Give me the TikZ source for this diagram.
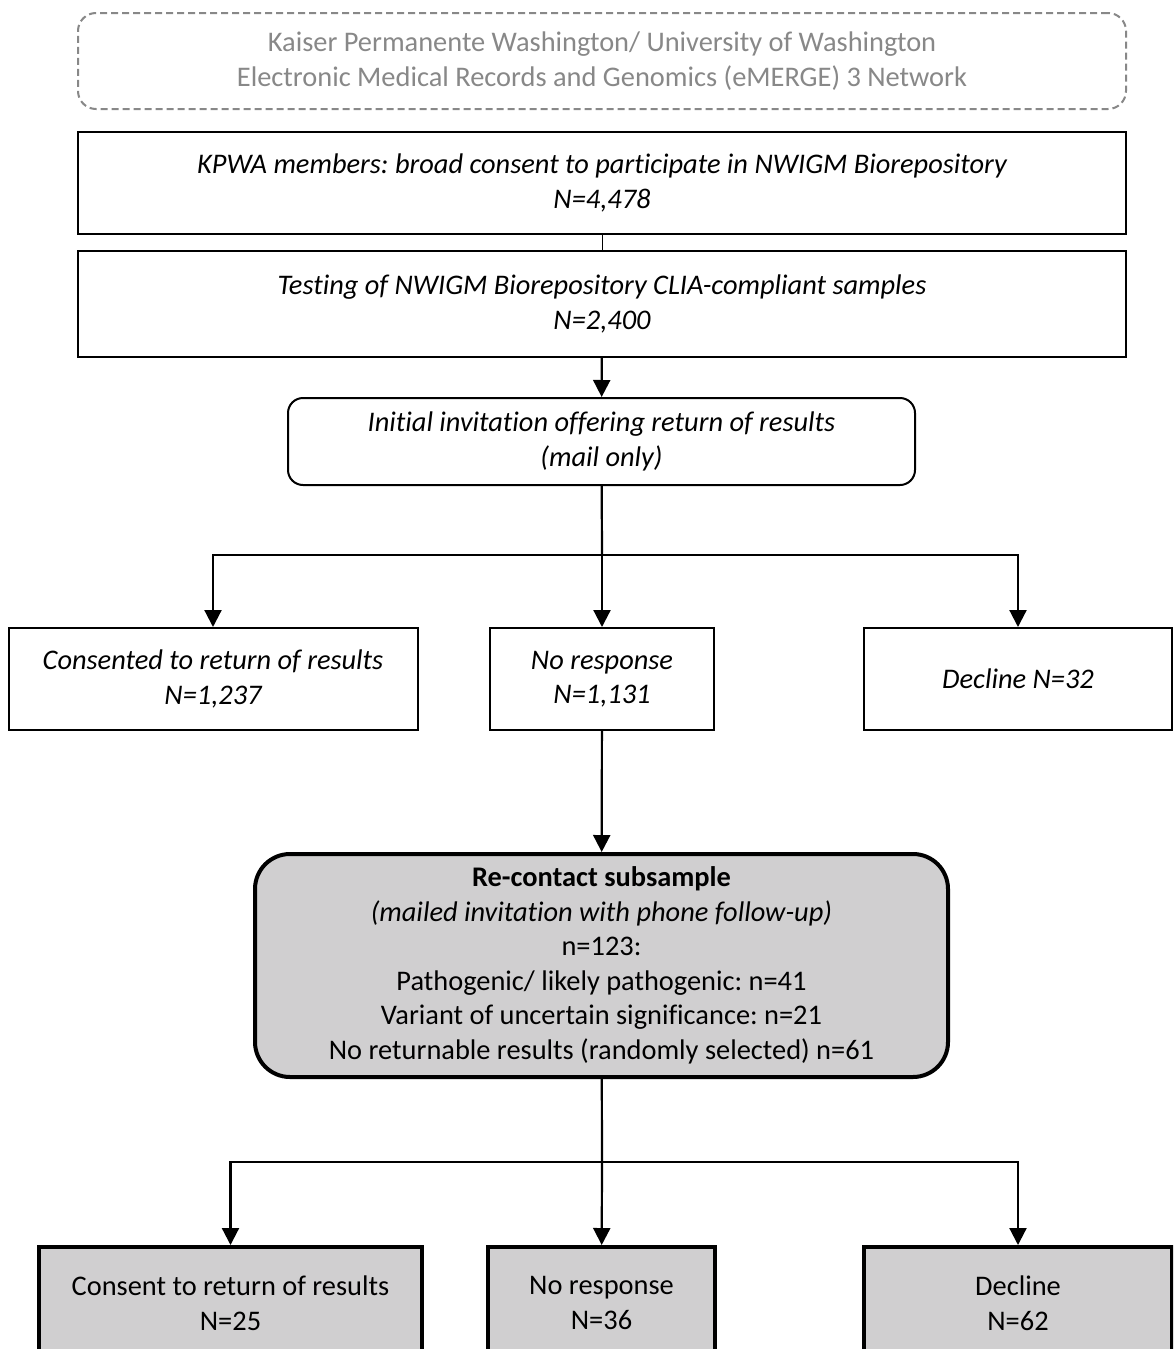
\documentclass[tikz,border=0pt]{standalone}
\usepackage{fontspec}
\setmainfont[Ligatures={NoCommon}]{Carlito}
\usetikzlibrary{arrows.meta}
\definecolor{boxgray}{HTML}{D0CFD0}
\definecolor{txtgray}{HTML}{888888}
\frenchspacing
\tikzset{
  base/.style={draw, align=center, inner sep=0pt, font=\fontsize{28.4}{34.5}\selectfont},
  plainbox/.style={base, line width=2pt, font=\fontsize{28.4}{34.5}\selectfont\itshape},
  roundbox/.style={plainbox, rounded corners=15pt},
  dashbox/.style={base, draw=txtgray, text=txtgray, dashed, dash pattern=on 7pt off 4pt, line width=2pt, rounded corners=18pt},
  graybox/.style={base, fill=boxgray, line width=4pt},
  conn/.style={line width=2.2pt},
  arr/.style={line width=2.2pt, -{Triangle[width=17pt,length=17pt]}}
}
\begin{document}
\begin{tikzpicture}[x=1pt,y=-1pt]
\clip (0,0) rectangle (1173,1349);
\fill[white] (0,0) rectangle (1173,1349);

\node[dashbox, minimum width=1048pt, minimum height=96pt] (top) at (602,61)
  {Kaiser Permanente Washington/ University of Washington\\Electronic Medical Records and Genomics (eMERGE) 3 Network};
\node[plainbox, minimum width=1048pt, minimum height=102pt] (b1) at (602,183)
  {KPWA members: broad consent to participate in NWIGM Biorepository\\N=4,478};
\node[plainbox, minimum width=1048pt, minimum height=106pt] (b2) at (602,304)
  {Testing of NWIGM Biorepository CLIA-compliant samples\\N=2,400};
\node[roundbox, minimum width=627pt, minimum height=87pt] (b3) at (601.5,441.5)
  {Initial invitation offering return of results\\(mail only)};
\node[plainbox, minimum width=409pt, minimum height=102pt] (b4) at (213,679)
  {Consented to return of results\\N=1,237};
\node[plainbox, minimum width=224pt, minimum height=102pt] (b5) at (602,679)
  {No response\\N=1,131};
\node[plainbox, minimum width=308pt, minimum height=102pt] (b6) at (1018,679)
  {Decline N=32};
\node[graybox, rounded corners=35pt, minimum width=693pt, minimum height=223pt] (rc) at (601.5,965.5)
  {\textbf{Re-contact subsample}\\\textit{(mailed invitation with phone follow-up)}\\n=123:\\Pathogenic/ likely pathogenic: n=41\\Variant of uncertain significance: n=21\\No returnable results (randomly selected) n=61};
\node[graybox, minimum width=383pt, minimum height=112pt] (c1) at (230.5,1303)
  {Consent to return of results\\N=25};
\node[graybox, minimum width=227pt, minimum height=112pt] (c2) at (601.5,1303)
  {No response\\N=36};
\node[graybox, minimum width=308pt, minimum height=112pt] (c3) at (1018,1303)
  {Decline\\N=62};

\coordinate (j1) at (602,555);
\coordinate (j2) at (602,1162);

\draw[line width=0.8pt] (b1) -- (b2);
\draw[arr] (b2) -- (b3);
\draw[conn] (b3) -- (j1);
\draw[arr] (j1) -| (b4);
\draw[arr] (j1) -- (b5);
\draw[arr] (j1) -| (b6);
\draw[arr] (b5) -- (rc);
\draw[conn] (rc) -- (j2);
\draw[arr] (j2) -| (c1);
\draw[arr] (j2) -- (c2);
\draw[arr] (j2) -| (c3);
\end{tikzpicture}
\end{document}
